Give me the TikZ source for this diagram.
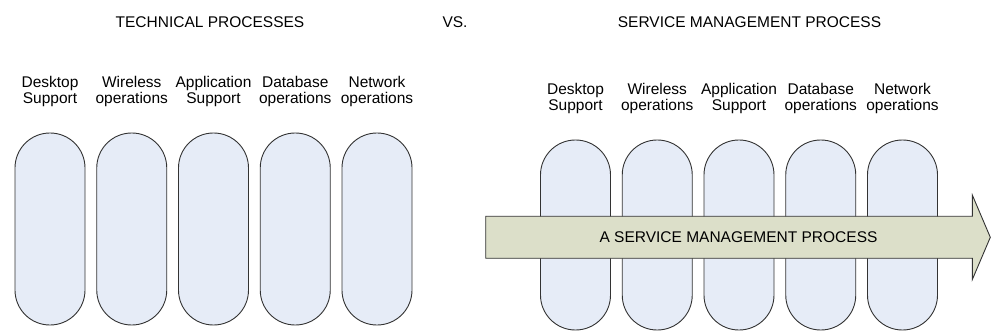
\documentclass[tikz,border=0pt]{standalone}
\usepackage{fontspec}
\setmainfont{Liberation Sans}
\begin{document}
\begin{tikzpicture}[x=1pt,y=-1pt,
  every node/.style={inner sep=0pt, font=\fontsize{15.5}{16.5}\selectfont},
  pill/.style={draw=black!80, line width=0.9pt, fill=pillfill,
    minimum width=70pt, rounded corners=34.9pt},
  lbl/.style={align=center, anchor=center},
  heading/.style={anchor=base}]
\definecolor{pillfill}{HTML}{E6ECF7}
\definecolor{arrowfill}{HTML}{DCDFC9}
\useasboundingbox (0,0) rectangle (991,331);

% headings
\node[heading] (tech) at (210,27.3) {TECHNICAL PROCESSES};
\node[heading] (vs)   at (455,27.3) {VS.};
\node[heading] (serv) at (749.5,27.3) {SERVICE MANAGEMENT PROCESS};

% technical processes: separate silos
\foreach \i/\a/\b in {0/Desktop/Support, 1/Wireless/operations, 2/Application/Support,
                      3/Database/operations, 4/Network/operations}{
  \node[pill, minimum height=192pt] (L\i) at (50+81.75*\i,229) {};
  \node[lbl] (LT\i) at (50+81.75*\i,91.5) {\a\\\b};
}

% service management: same silos crossed by one process
\foreach \i/\a/\b in {0/Desktop/Support, 1/Wireless/operations, 2/Application/Support,
                      3/Database/operations, 4/Network/operations}{
  \node[pill, minimum height=190pt] (R\i) at (575.5+81.75*\i,235) {};
  \node[lbl] (RT\i) at (575.5+81.75*\i,98.5) {\a\\\b};
}

% the process arrow
\coordinate (a0) at (485.7,216.3);
\coordinate (a1) at (972.3,216.3);
\coordinate (a2) at (972.3,195);
\coordinate (tip) at (990.3,237.3);
\coordinate (a4) at (972.3,279.6);
\coordinate (a5) at (972.3,258.3);
\coordinate (a6) at (485.7,258.3);
\draw[draw=black!80, line width=0.9pt, fill=arrowfill, line join=miter]
  (a0) -- (a1) -- (a2) -- (tip) -- (a4) -- (a5) -- (a6) -- cycle;
\node (proc) at (738.5,237.3) {A SERVICE MANAGEMENT PROCESS};
\end{tikzpicture}
\end{document}
